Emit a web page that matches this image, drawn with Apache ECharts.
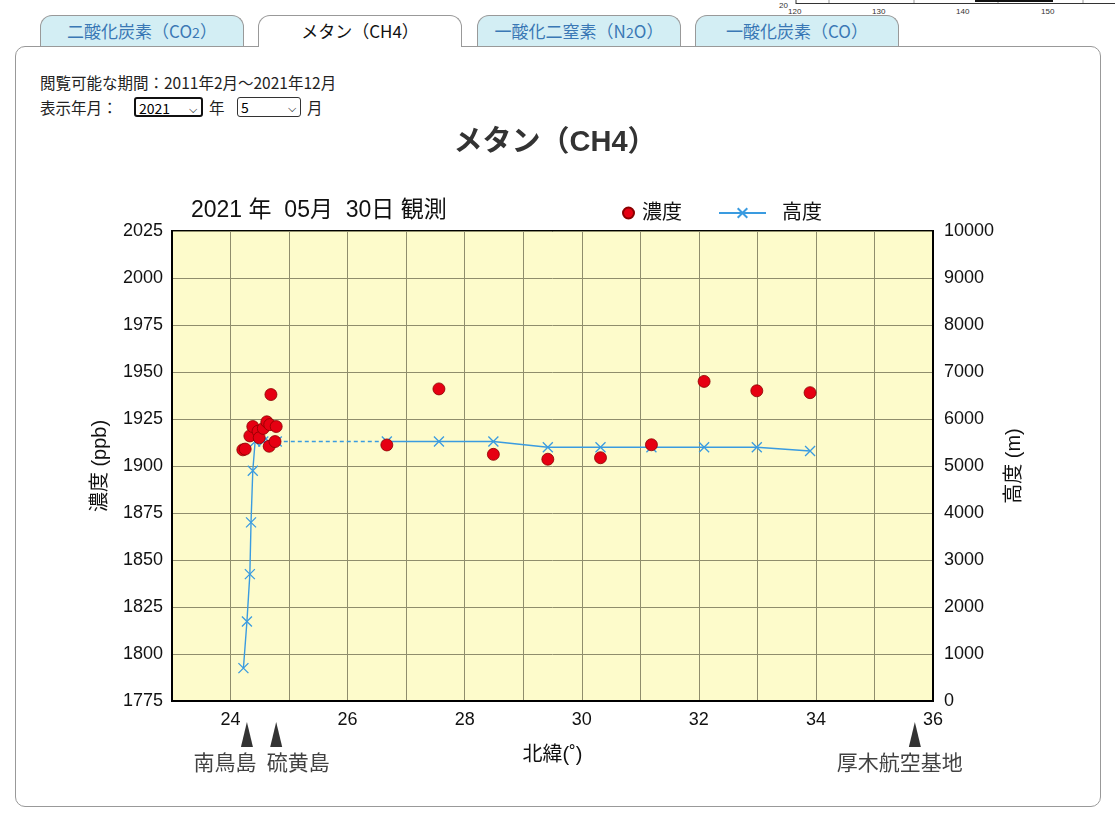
<!DOCTYPE html>
<html><head><meta charset="utf-8">
<script src="https://cdn.jsdelivr.net/npm/echarts@6/dist/echarts.min.js"></script>
<style>
html,body{margin:0;padding:0;background:#fff;width:1115px;height:818px;overflow:hidden;font-family:"Noto Sans CJK JP","Noto Sans",sans-serif;}
.tab{position:absolute;top:15px;height:31px;width:204px;box-sizing:border-box;border:1px solid #999;border-bottom:none;border-radius:12px 12px 0 0;background:#d3eef4;color:#3a78b5;font-size:17px;text-align:center;line-height:30px;}
.tab.active{background:#fff;color:#111;height:32px;z-index:3;}
#panel{position:absolute;left:15px;top:46px;width:1086px;height:761px;box-sizing:border-box;border:1px solid #999;border-radius:10px;background:#fff;}
.txt{position:absolute;font-size:15.5px;color:#222;white-space:nowrap;}
.sel{position:absolute;height:20px;box-sizing:border-box;border:1px solid #333;border-radius:3px;font-size:14px;line-height:18px;padding-left:3px;background:#fff;}
.sel span{position:absolute;right:4px;top:0;font-size:11px;}
#chart{position:absolute;left:0;top:0;width:1115px;height:818px;z-index:5;}
#frag{position:absolute;left:760px;top:0;z-index:1;}
</style></head>
<body>
<svg id="frag" width="355" height="18">
  <line x1="36" y1="3.5" x2="355" y2="3.5" stroke="#333" stroke-width="1"/>
  <line x1="36" y1="0" x2="36" y2="4" stroke="#333"/>
  <line x1="69" y1="0" x2="69" y2="3" stroke="#999"/>
  <line x1="154" y1="0" x2="154" y2="3" stroke="#999"/>
  <line x1="238" y1="0" x2="238" y2="3" stroke="#999"/>
  <line x1="323" y1="0" x2="323" y2="3" stroke="#999"/>
  <rect x="215" y="0" width="78" height="2" fill="#111"/>
  <text x="19" y="8" font-size="8" font-family="Liberation Sans" fill="#333">20</text>
  <text x="28" y="14" font-size="8" font-family="Liberation Sans" fill="#333">120</text>
  <text x="112" y="14" font-size="8" font-family="Liberation Sans" fill="#333">130</text>
  <text x="196" y="14" font-size="8" font-family="Liberation Sans" fill="#333">140</text>
  <text x="281" y="14" font-size="8" font-family="Liberation Sans" fill="#333">150</text>
</svg>
<div class="tab" style="left:40px;">二酸化炭素（CO<small>2</small>）</div>
<div class="tab active" style="left:258px;">メタン（CH4）</div>
<div class="tab" style="left:477px;">一酸化二窒素（N<small>2</small>O）</div>
<div class="tab" style="left:695px;">一酸化炭素（CO）</div>
<div id="panel"></div>
<div class="txt" style="left:40px;top:71px;">閲覧可能な期間：2011年2月～2021年12月</div>
<div class="txt" style="left:40px;top:96px;">表示年月：</div>
<div class="sel" style="left:134px;top:97px;width:69px;border-width:2px;border-color:#111;">2021<span>&#x2335;</span></div>
<div class="txt" style="left:209px;top:96px;">年</div>
<div class="sel" style="left:237px;top:97px;width:64px;">5<span>&#x2335;</span></div>
<div class="txt" style="left:307px;top:96px;">月</div>
<div id="chart"></div>
<script>
// ---- data ----
const concLat = [24.21,24.25,24.33,24.38,24.47,24.49,24.56,24.62,24.67,24.69,24.66,24.76,24.78,
                 26.67,27.56,28.49,29.42,30.32,31.19,32.09,32.99,33.90];
const concPpb = [1908.6,1909.0,1916.0,1921.0,1918.5,1915.0,1920.0,1923.5,1922.0,1938.0,1910.5,1913.0,1921.0,
                 1911.2,1941.0,1906.2,1903.6,1904.4,1911.3,1945.0,1940.0,1939.0];
const altLatLow = [24.22,24.28,24.33,24.35,24.38,24.42,24.56,24.65,24.79];
const altLow    = [700,1690,2700,3800,4900,5520,5520,5520,5520];
const altLatHigh = [26.67,27.56,28.49,29.42,30.32,31.19,32.09,32.99,33.90];
const altHigh    = [5520,5520,5520,5400,5400,5400,5400,5400,5320];
const stationNames = ['南鳥島','硫黄島','厚木航空基地'];
const stationLat = [24.28,24.78,35.69];
const xTickLabels = [24,26,28,30,32,34,36];
const chartTitle = 'メタン（CH4）';
const obsDate = '2021 年  05月  30日 観測';

// ---- build ----
const FONT = '"Liberation Sans","Noto Sans CJK JP",sans-serif';
const chart = echarts.init(document.getElementById('chart'));
const concData = concLat.map((x,i)=>[x,concPpb[i]]);
const altSolid = altLatLow.map((x,i)=>[x,altLow[i]]).concat([[null,null]]).concat(altLatHigh.map((x,i)=>[x,altHigh[i]]));
const altDash = [[altLatLow[altLatLow.length-1], altLow[altLow.length-1]],[altLatHigh[0], altHigh[0]]];
const labelOffsets = [[-22,0],[22,0],[-15,0]];
const stations = stationLat.map((x,i)=>({value:[x,0.5],name:stationNames[i],label:{offset:labelOffsets[i]}}));
const BLUE = '#3a9be0';
const xSym = 'path://M0,0L10,10M10,0L0,10';
const plain = v => String(v);

chart.setOption({
  animation:false,
  textStyle:{fontFamily:FONT},
  title:[
    {text:chartTitle,left:550,top:123,textAlign:'center',textStyle:{fontSize:29,fontWeight:'bold',color:'#333',fontFamily:FONT}},
    {text:obsDate,left:186,top:194,textStyle:{fontSize:23,fontWeight:'normal',color:'#111',fontFamily:FONT}}
  ],
  legend:[
    {data:['濃度'],left:617,top:198,itemWidth:11,itemHeight:11,textStyle:{fontSize:20,color:'#111',fontFamily:FONT,padding:[0,0,0,3]}},
    {data:['高度'],left:713,top:198,itemWidth:47,itemHeight:12,textStyle:{fontSize:20,color:'#111',fontFamily:FONT,padding:[0,0,0,11]}}
  ],
  grid:[
    {left:172,top:231,width:761,height:470,show:true,backgroundColor:'#fdfbcb',borderColor:'#000',borderWidth:2},
    {left:172,top:722,width:761,height:25,show:false}
  ],
  xAxis:[
    {type:'value',gridIndex:0,min:23,max:36,interval:1,
     name:'北緯(˚)',nameLocation:'middle',nameGap:44,nameTextStyle:{fontSize:20,color:'#111',fontFamily:FONT},
     axisLine:{show:true,lineStyle:{color:'#000',width:2}},axisTick:{show:false},
     axisLabel:{fontSize:18,color:'#111',margin:10,formatter:v=>xTickLabels.indexOf(v)>=0?String(v):''},
     splitLine:{show:true,lineStyle:{color:'#8f8d6c',width:1}}},
    {type:'value',gridIndex:1,min:23,max:36,show:false}
  ],
  yAxis:[
    {type:'value',gridIndex:0,min:1775,max:2025,interval:25,position:'left',
     name:'濃度 (ppb)',nameLocation:'middle',nameRotate:90,nameGap:62,nameTextStyle:{fontSize:20,color:'#111',fontFamily:FONT},
     axisLine:{show:true,lineStyle:{color:'#000',width:2}},axisTick:{show:false},
     axisLabel:{fontSize:18,color:'#111',margin:9,formatter:plain},
     splitLine:{show:true,lineStyle:{color:'#8f8d6c',width:1}}},
    {type:'value',gridIndex:0,min:0,max:10000,interval:1000,position:'right',
     name:'高度 (m)',nameLocation:'middle',nameRotate:90,nameGap:66,nameTextStyle:{fontSize:20,color:'#111',fontFamily:FONT},
     axisLine:{show:true,lineStyle:{color:'#000',width:2}},axisTick:{show:false},
     axisLabel:{fontSize:18,color:'#111',margin:11,formatter:plain},
     splitLine:{show:false}},
    {type:'value',gridIndex:1,min:0,max:1,show:false}
  ],
  series:[
    {name:'高度',type:'line',xAxisIndex:0,yAxisIndex:1,data:altSolid,connectNulls:false,
     symbol:xSym,symbolSize:10,showAllSymbol:true,
     lineStyle:{color:BLUE,width:1.4},
     itemStyle:{color:'rgba(0,0,0,0)',borderColor:BLUE,borderWidth:1.3},z:3},
    {name:'dash',type:'line',xAxisIndex:0,yAxisIndex:1,data:altDash,symbol:'none',
     lineStyle:{color:BLUE,width:1.4,type:[4,3]},z:3},
    {name:'濃度',type:'scatter',xAxisIndex:0,yAxisIndex:0,data:concData,symbol:'circle',symbolSize:12,
     itemStyle:{color:'#e60012',borderColor:'#8a0000',borderWidth:0.8,opacity:1},z:5},
    {name:'stations',type:'scatter',xAxisIndex:1,yAxisIndex:2,data:stations,symbol:'triangle',symbolSize:[12,25],
     itemStyle:{color:'#000'},silent:true,
     label:{show:true,position:'bottom',distance:7,fontSize:21,color:'#111',fontFamily:FONT,formatter:p=>p.name}}
  ]
});
</script>
</body></html>
